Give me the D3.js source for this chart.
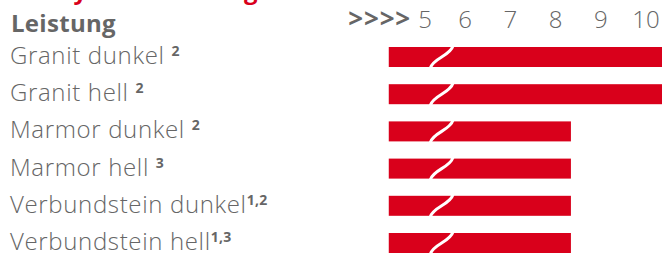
<!DOCTYPE html>
<html><head><meta charset="utf-8">
<script src="https://cdn.jsdelivr.net/npm/d3@7"></script>
<style>
html,body{margin:0;padding:0;background:#fff;overflow:hidden}
text{font-family:"Open Sans",sans-serif}
</style></head>
<body>
<svg id="c" width="662" height="257"></svg>
<script>
const categories = ["Granit dunkel", "Granit hell", "Marmor dunkel", "Marmor hell", "Verbundstein dunkel", "Verbundstein hell"];
const footnotes = ["2", "2", "2", "3", "1,2", "1,3"];
const footnoteSpace = [true, true, true, true, false, false];
const values = [10.45, 10.45, 8.35, 8.35, 8.35, 8.35];
const tickValues = [5, 6, 7, 8, 9, 10];
const axisStart = 4.32;
const breakFrom = 5.24, breakTo = 5.74;
const title = "Heizsystem-Leistung";
const subtitle = "Leistung";
const breakMarker = ">>>>";

const red = "#d9001b", gray = "#666666";
const svg = d3.select("#c");
const x = d3.scaleLinear().domain([5, 10]).range([419.5, 645.5]);
const y = d3.scalePoint().domain(categories).range([57, 243]);
const bh = 20;

// clipped red title (only descenders visible)
svg.append("text").attr("x", 10).attr("y", -1)
  .attr("font-size", 24).attr("font-weight", 700).attr("fill", red).text(title);

svg.append("text").attr("x", 11).attr("y", 32)
  .attr("font-size", 24).attr("font-weight", 700).attr("fill", gray)
  .attr("letter-spacing", 0.3).text(subtitle);

svg.append("text").attr("x", 411).attr("y", 28).attr("text-anchor", "end")
  .attr("font-size", 26).attr("font-weight", 700).attr("fill", gray)
  .attr("letter-spacing", 0.8).text(breakMarker);

const axis = d3.axisTop(x).tickValues(tickValues).tickFormat(d3.format("d")).tickSize(0).tickPadding(0);
const ag = svg.append("g").attr("transform", "translate(0,28)").call(axis);
ag.select(".domain").remove();
ag.selectAll("text").attr("font-size", 24).attr("fill", gray).attr("font-weight", 300)
  .attr("font-family", "Open Sans, sans-serif").attr("dy", 0)
  .attr("dx", d => d === 5 ? 5 : 0);

// labels
const lab = svg.selectAll("text.lab").data(categories).join("text").attr("class", "lab")
  .attr("x", 10).attr("y", d => y(d) + 7).attr("font-size", 24).attr("font-weight", 300)
  .attr("fill", gray).attr("letter-spacing", 0.65);
lab.append("tspan").text((d, i) => d + (footnoteSpace[i] ? " " : ""));
lab.append("tspan").attr("dy", -8).attr("font-size", 14).attr("font-weight", 700)
  .attr("letter-spacing", 0.3)
  .text((d, i) => footnotes[i]);

// bars
const bars = svg.selectAll("g.bar").data(categories).join("g").attr("class", "bar");
bars.append("rect")
  .attr("x", x(axisStart))
  .attr("y", d => y(d) - bh / 2)
  .attr("width", (d, i) => Math.min(x(values[i]), 662) - x(axisStart))
  .attr("height", bh).attr("fill", red);
bars.append("path")
  .attr("d", d => {
    const t = y(d) - bh / 2 - 1, b = y(d) + bh / 2 + 1;
    const x0 = x(breakFrom), x1 = x(breakTo);
    return `M${x0},${b} C${x0 + 3},${b - 10} ${x1 - 3},${t + 10} ${x1},${t}`;
  })
  .attr("fill", "none").attr("stroke", "#fff").attr("stroke-width", 3);
</script>
</body></html>
